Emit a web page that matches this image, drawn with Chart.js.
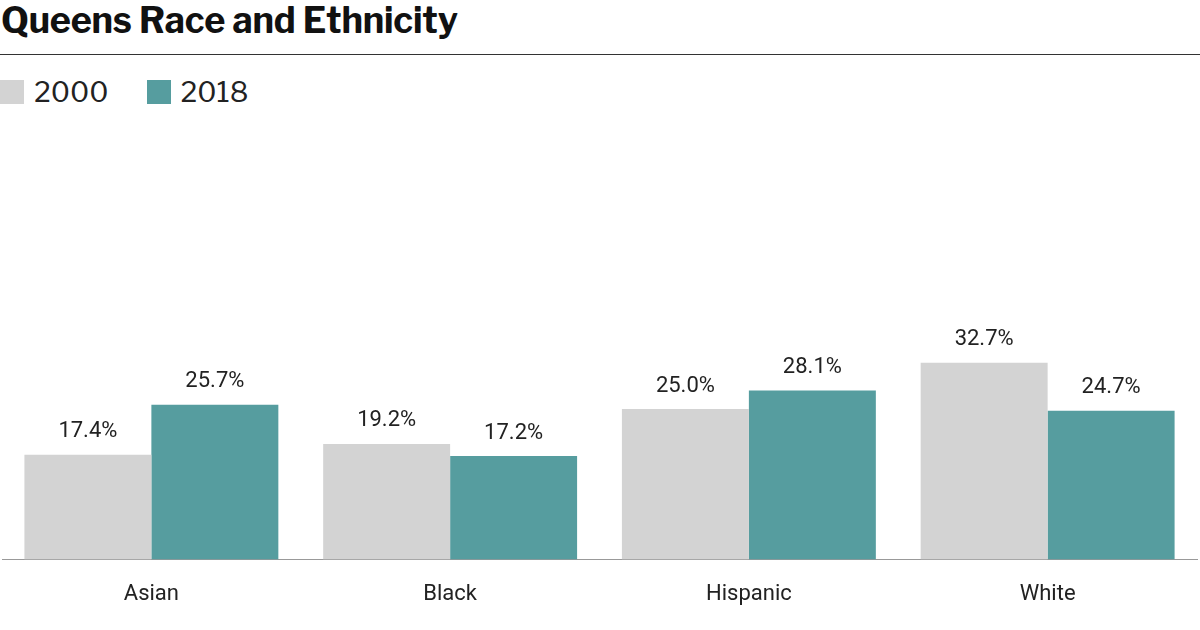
<!DOCTYPE html>
<html><head><meta charset="utf-8">
<script src="https://cdn.jsdelivr.net/npm/chart.js@4"></script>
<style>
body{margin:0;width:1200px;height:630px;background:#fff;font-family:"Libre Franklin","Roboto",sans-serif;overflow:hidden;position:relative}
#title{position:absolute;left:1px;top:-2px;font-size:36px;font-weight:700;color:#111;letter-spacing:-0.2px}
#rule{position:absolute;left:0;top:54px;width:1200px;height:1px;background:#333}
#legend{position:absolute;left:0;top:75px;font-size:28px;color:#222;display:flex;align-items:center}
.sw{width:24px;height:24px;display:inline-block;margin-right:10px}
.it{display:flex;align-items:center;margin-right:38px}
#wrap{position:absolute;left:0;top:120px;width:1200px;height:510px}
</style></head><body>
<div id="title">Queens Race and Ethnicity</div>
<div id="rule"></div>
<div id="legend"><div class="it"><span class="sw" style="background:#d3d3d3"></span>2000</div><div class="it"><span class="sw" style="background:#569d9f"></span>2018</div></div>
<div id="wrap"><canvas id="c"></canvas></div>
<script>
const categories=["Asian","Black","Hispanic","White"];
const values2000=[17.4,19.2,25.0,32.7];
const values2018=[25.7,17.2,28.1,24.7];
const labelPlugin={id:'lbl',afterDatasetsDraw(ch){const c=ch.ctx;c.save();c.font='22px Roboto, sans-serif';c.fillStyle='#222';c.textAlign='center';c.textBaseline='bottom';
ch.data.datasets.forEach((d,i)=>{ch.getDatasetMeta(i).data.forEach((b,j)=>{c.fillText(d.data[j].toFixed(1)+'%',b.x,b.y-12);});});c.restore();}};
new Chart(document.getElementById('c'),{type:'bar',
data:{labels:categories,datasets:[{label:'2000',data:values2000,backgroundColor:'#d3d3d3'},{label:'2018',data:values2018,backgroundColor:'#569d9f'}]},
options:{responsive:true,maintainAspectRatio:false,animation:false,
layout:{padding:{left:2,right:3,top:0,bottom:0}},
plugins:{legend:{display:false},tooltip:{enabled:false}},
datasets:{bar:{barPercentage:1,categoryPercentage:0.85}},
scales:{x:{grid:{display:false,drawTicks:false},border:{color:'#999'},ticks:{color:'#222',font:{size:22,family:'Roboto'},padding:22}},
y:{display:false,min:0,max:73}}},
plugins:[labelPlugin]});
</script></body></html>
